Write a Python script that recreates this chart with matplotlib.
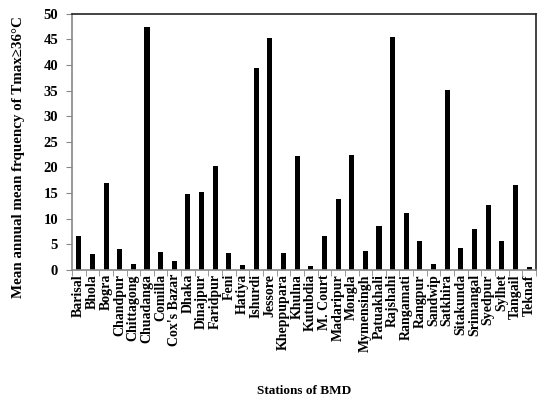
import matplotlib
matplotlib.use('Agg')
import matplotlib.pyplot as plt
import numpy as np

stations = ['Barisal', 'Bhola', 'Bogra', 'Chandpur', 'Chittagong', 'Chuadanga',
            'Comilla', "Cox's Bazar", 'Dhaka', 'Dinajpur', 'Faridpur', 'Feni',
            'Hatiya', 'Ishurdi', 'Jessore', 'Kheppupara', 'Khulna', 'Kutubdia',
            'M. Court', 'Madaripur', 'Mongla', 'Mymensingh', 'Patuakhali',
            'Rajshahi', 'Rangamati', 'Rangpur', 'Sandwip', 'Satkhira',
            'Sitakunda', 'Srimangal', 'Syedpur', 'Sylhet', 'Tangail', 'Teknaf']
freq = [6.6, 3.1, 16.9, 4.1, 1.2, 47.5,
        3.4, 1.8, 14.8, 15.3, 20.3, 3.2,
        0.9, 39.4, 45.2, 3.2, 22.3, 0.7,
        6.6, 13.9, 22.5, 3.6, 8.6,
        45.4, 11.1, 5.7, 1.2, 35.2,
        4.3, 7.9, 12.6, 5.7, 16.6, 0.5]

plt.rcParams['font.family'] = ['Liberation Serif', 'DejaVu Serif']
plt.rcParams['font.weight'] = 'bold'

fig = plt.figure(figsize=(5.37, 4.07), dpi=100)
ax = fig.add_axes([0.134, 0.337, 0.864, 0.629])

x = np.arange(len(stations))
ax.bar(x, freq, width=0.37, color='black')

ax.set_xlim(-0.5, len(stations) - 0.5)
ax.set_ylim(0, 50)
ax.set_yticks(range(0, 51, 5))
ax.set_yticklabels([str(v) for v in range(0, 51, 5)], fontsize=10.5, fontweight='bold')

ax.set_xticks(x)
ax.set_xticklabels(stations, rotation=90, fontsize=10, fontweight='bold')
ax.tick_params(axis='x', length=0, pad=3)
ax.set_xticks(np.arange(-0.5, len(stations), 1), minor=True)
ax.tick_params(axis='x', which='minor', length=4, color='#888888')
ax.tick_params(axis='y', length=4, color='#888888', pad=6)

for s in ['left', 'bottom']:
    ax.spines[s].set_color('#888888')
    ax.spines[s].set_linewidth(1.2)
for s in ['top', 'right']:
    ax.spines[s].set_color('#222222')
    ax.spines[s].set_linewidth(1.2)

ax.set_ylabel('Mean annual mean frquency of Tmax\u226536\u00b0C', fontsize=10.8,
              fontweight='bold')
ax.yaxis.set_label_coords(-0.102, 0.44)
fig.text(0.5 + 0.067, 0.04, 'Stations of BMD', ha='center', va='center',
         fontsize=9.5, fontweight='bold')

fig.savefig('out.png', dpi=100)
